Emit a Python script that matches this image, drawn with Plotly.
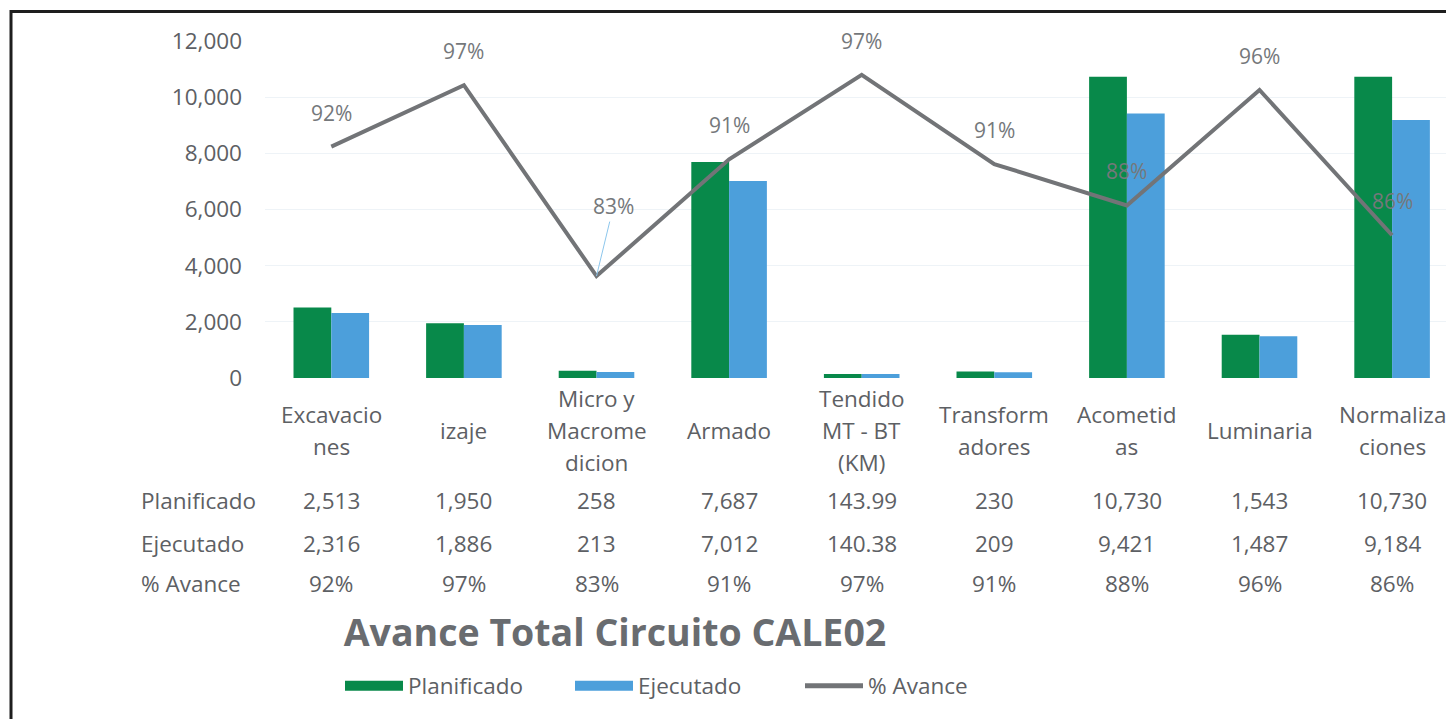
import plotly.graph_objects as go

# ---------------- data ----------------
categories = ["Excavaciones", "izaje", "Micro y Macromedicion", "Armado",
              "Tendido MT - BT (KM)", "Transformadores", "Acometidas",
              "Luminaria", "Normalizaciones"]
category_labels = ["Excavacio<br>nes", "izaje", "Micro y<br>Macrome<br>dicion", "Armado",
                   "Tendido<br>MT - BT<br>(KM)", "Transform<br>adores", "Acometid<br>as",
                   "Luminaria", "Normaliza<br>ciones"]
planificado = [2513, 1950, 258, 7687, 143.99, 230, 10730, 1543, 10730]
ejecutado = [2316, 1886, 213, 7012, 140.38, 209, 9421, 1487, 9184]
avance = [0.9216, 0.9672, 0.8256, 0.9122, 0.9749, 0.9087, 0.8780, 0.9637, 0.8559]
avance_labels = ["92%", "97%", "83%", "91%", "97%", "91%", "88%", "96%", "86%"]
planificado_labels = ["2,513", "1,950", "258", "7,687", "143.99", "230", "10,730", "1,543", "10,730"]
ejecutado_labels = ["2,316", "1,886", "213", "7,012", "140.38", "209", "9,421", "1,487", "9,184"]
row_names = ["Planificado", "Ejecutado", "% Avance"]
y_ticks = [0, 2000, 4000, 6000, 8000, 10000, 12000]
y_tick_labels = ["0", "2,000", "4,000", "6,000", "8,000", "10,000", "12,000"]

# ---------------- styling ----------------
OFF = 8                      # page body margin
W, H = 1454 - OFF, 719 - OFF
ML, MT = 265 - OFF, 41 - OFF
PW, PH = W - ML, 337
MB = H - MT - PH
FONT = "Open Sans"
FS = 22.5
GREEN = "#08894A"
BLUE = "#4C9FDB"
LINE = "#727477"
TXT = "#5d6064"
SPACING = 132.6


def px_to_paper_x(px):
    return (px - OFF - ML) / PW


def px_to_paper_y(py):
    return (MT + PH - (py - OFF)) / PH


fig = go.Figure()
fig.add_trace(go.Bar(x=categories, y=planificado, name="Planificado",
                     marker=dict(color=GREEN, line=dict(width=0)), showlegend=False))
fig.add_trace(go.Bar(x=categories, y=ejecutado, name="Ejecutado",
                     marker=dict(color=BLUE, line=dict(width=0)), showlegend=False))
fig.add_trace(go.Scatter(x=categories, y=avance, name="% Avance", yaxis="y2",
                         mode="lines", line=dict(color=LINE, width=4), showlegend=False))

# legend entries
for nm, col in [("Planificado", GREEN), ("Ejecutado", BLUE), ("% Avance", LINE)]:
    fig.add_trace(go.Scatter(x=[None], y=[None], name=nm, mode="lines",
                             line=dict(color=col, width=12 if nm != "% Avance" else 5)))

annotations = []
# data labels on the line
for i, (c, v, lab) in enumerate(zip(categories, avance, avance_labels)):
    if i == 2:
        annotations.append(dict(x=c, y=v, xref="x", yref="y2", text=lab,
                                showarrow=True, arrowhead=0, arrowwidth=1,
                                arrowcolor="#8cc6ec", ax=17, ay=-70, standoff=0,
                                font=dict(family=FONT, size=21, color="#75787b")))
    else:
        annotations.append(dict(x=c, y=v, xref="x", yref="y2", text=lab,
                                showarrow=False, yshift=34,
                                font=dict(family=FONT, size=21, color="#75787b")))

# category labels (one annotation per text line for Excel-like line spacing)
for c, lab in zip(categories, category_labels):
    lines = lab.split("<br>")
    n = len(lines)
    for k, ln in enumerate(lines):
        annotations.append(dict(x=c, y=px_to_paper_y(430), xref="x", yref="paper",
                                text=ln, showarrow=False, yanchor="middle",
                                yshift=-(k - (n - 1) / 2) * 32,
                                font=dict(family=FONT, size=FS, color=TXT)))

# data table
row_y = [500, 543, 583]
for r, (nm, vals) in enumerate(zip(row_names, [planificado_labels, ejecutado_labels, avance_labels])):
    annotations.append(dict(x=px_to_paper_x(139), y=px_to_paper_y(row_y[r]), xref="paper", yref="paper",
                            text=nm, showarrow=False, xanchor="left", yanchor="middle",
                            font=dict(family=FONT, size=FS, color=TXT)))
    for c, t in zip(categories, vals):
        annotations.append(dict(x=c, y=px_to_paper_y(row_y[r]), xref="x", yref="paper",
                                text=t, showarrow=False, yanchor="middle",
                                font=dict(family=FONT, size=FS, color=TXT)))

# frame (top and left edges)
shapes = [dict(type="path", xref="paper", yref="paper",
               path=f"M {px_to_paper_x(11)},{px_to_paper_y(730)} L {px_to_paper_x(11)},{px_to_paper_y(11.5)} L {px_to_paper_x(1470)},{px_to_paper_y(11.5)}",
               line=dict(color="#1e1e1e", width=3))]

fig.update_layout(
    width=W, height=H, autosize=False,
    margin=dict(l=ML, r=0, t=MT, b=MB, pad=0),
    paper_bgcolor="white", plot_bgcolor="white",
    barmode="group", bargap=0.43, bargroupgap=0,
    font=dict(family=FONT, size=FS, color=TXT),
    title=dict(text="<b>Avance Total Circuito CALE02</b>", xref="container", yref="container",
               x=(615 - OFF) / W, y=1 - (633 - OFF) / H, xanchor="center", yanchor="middle",
               font=dict(family=FONT, size=37.5, color="#696c70")),
    xaxis=dict(type="category", range=[-0.5, -0.5 + PW / SPACING], showticklabels=False,
               showgrid=False, zeroline=False, showline=False, ticks=""),
    yaxis=dict(range=[0, 12000], tickvals=y_ticks, ticktext=y_tick_labels,
               showgrid=True, gridcolor="#eef3f7", gridwidth=1, zeroline=False,
               showline=False, ticks="", ticklabelstandoff=22,
               tickfont=dict(family=FONT, size=FS, color=TXT)),
    yaxis2=dict(range=[0.75, 1.0], overlaying="y", side="right", visible=False),
    legend=dict(orientation="h", x=px_to_paper_x(340), y=px_to_paper_y(686),
                xanchor="left", yanchor="middle", itemwidth=58, entrywidth=157,
                font=dict(family=FONT, size=FS, color=TXT), bgcolor="rgba(0,0,0,0)"),
    annotations=annotations,
    shapes=shapes,
)

fig.write_html("out.html")
